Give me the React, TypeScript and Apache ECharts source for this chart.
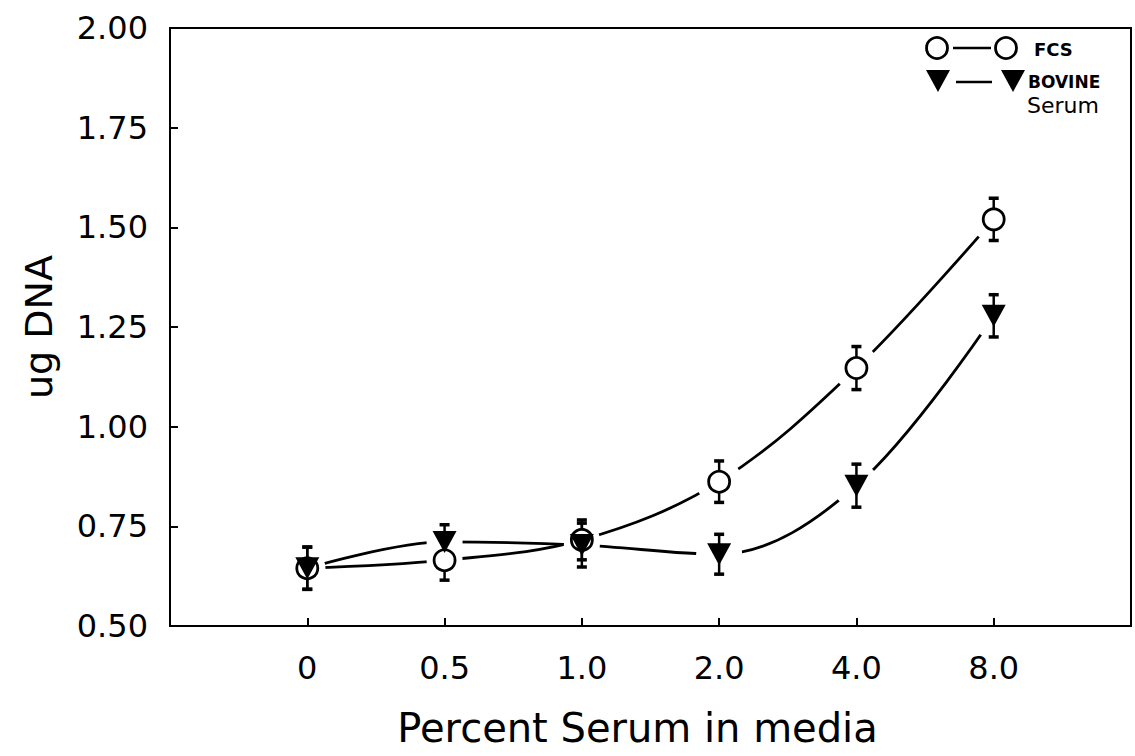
import React, { useEffect, useRef } from "react";
import * as echarts from "echarts";

// Serum concentrations (% in media), plotted at evenly spaced positions
const categories = ["0", "0.5", "1.0", "2.0", "4.0", "8.0"];

// DNA content (ug) with fetal calf serum
const fcsMean = [0.645, 0.665, 0.716, 0.862, 1.147, 1.52];
const fcsErr = [0.053, 0.05, 0.05, 0.052, 0.054, 0.053];

// DNA content (ug) with bovine serum
const bovineMean = [0.645, 0.711, 0.703, 0.68, 0.852, 1.278];
const bovineErr = [0.053, 0.043, 0.055, 0.05, 0.054, 0.053];

const yTicks = [0.5, 0.75, 1.0, 1.25, 1.5, 1.75, 2.0];

const FONT = "DejaVu Sans";

const pairs = (vals: number[]) => vals.map((v, i) => [i, v]);
const triples = (vals: number[], errs: number[]) =>
  vals.map((v, i) => [i, v, errs[i]]);

function errorBar(params: any, api: any) {
  const x = api.value(0);
  const y = api.value(1);
  const e = api.value(2);
  const top = api.coord([x, y + e]);
  const bot = api.coord([x, y - e]);
  const cap = 5;
  const style = { stroke: "#000", lineWidth: 2.5 };
  return {
    type: "group",
    children: [
      { type: "line", shape: { x1: top[0], y1: top[1], x2: bot[0], y2: bot[1] }, style },
      { type: "line", shape: { x1: top[0] - cap, y1: top[1], x2: top[0] + cap, y2: top[1] }, style: { stroke: "#000", lineWidth: 3.5 } },
      { type: "line", shape: { x1: bot[0] - cap, y1: bot[1], x2: bot[0] + cap, y2: bot[1] }, style: { stroke: "#000", lineWidth: 3.5 } },
    ],
  };
}

// gap around each marker: wider where the curves climb steeply
const haloSize = (_v: any, p: any) => (p.dataIndex >= 3 ? 46 : 36);

export default function App() {
  const ref = useRef<HTMLDivElement>(null);

  useEffect(() => {
    if (!ref.current) return;
    const chart = echarts.init(ref.current, null, { renderer: "svg" });

    const lineStyle = { color: "#000", width: 2.8, opacity: 1 };

    chart.setOption({
      animation: false,
      backgroundColor: "#fff",
      grid: {
        left: 170,
        right: 4,
        top: 28,
        bottom: 130,
        show: true,
        borderColor: "#000",
        borderWidth: 2,
      },
      xAxis: {
        type: "value",
        min: -1,
        max: 6,
        interval: 1,
        name: "Percent Serum in media",
        nameLocation: "middle",
        nameGap: 82,
        nameTextStyle: {
          fontFamily: FONT,
          fontSize: 40,
          color: "#000",
          padding: [0, 26, 0, 0],
        },
        axisLine: { show: true, onZero: false, lineStyle: { color: "#000", width: 2 } },
        axisTick: { show: true, inside: true, length: 8, lineStyle: { color: "#000", width: 2 } },
        splitLine: { show: false },
        axisLabel: {
          margin: 26,
          fontFamily: FONT,
          fontSize: 32,
          color: "#000",
          formatter: (v: number) => (v >= 0 && v < categories.length ? categories[v] : ""),
        },
      },
      yAxis: {
        type: "value",
        min: yTicks[0],
        max: yTicks[yTicks.length - 1],
        interval: 0.25,
        name: "ug DNA",
        nameLocation: "middle",
        nameGap: 112,
        nameTextStyle: { fontFamily: FONT, fontSize: 38, color: "#000" },
        axisLine: { show: true, onZero: false, lineStyle: { color: "#000", width: 2 } },
        axisTick: { show: true, inside: true, length: 8, lineStyle: { color: "#000", width: 2 } },
        splitLine: { show: false },
        axisLabel: {
          margin: 22,
          fontFamily: FONT,
          fontSize: 32,
          color: "#000",
          formatter: (v: number) => v.toFixed(2),
        },
      },
      series: [
        {
          name: "FCS line",
          type: "line",
          data: pairs(fcsMean),
          smooth: 0.35,
          showSymbol: false,
          lineStyle,
          z: 1,
          silent: true,
        },
        {
          name: "Bovine line",
          type: "line",
          data: pairs(bovineMean),
          smooth: 0.35,
          showSymbol: false,
          lineStyle,
          z: 1,
          silent: true,
        },
        // white halos open small gaps where the curves meet the markers
        {
          type: "scatter",
          data: pairs(fcsMean),
          symbol: "circle",
          symbolSize: haloSize,
          itemStyle: { color: "#fff", opacity: 1 },
          z: 2,
          silent: true,
        },
        {
          type: "scatter",
          data: pairs(bovineMean),
          symbol: "circle",
          symbolSize: haloSize,
          itemStyle: { color: "#fff", opacity: 1 },
          z: 2,
          silent: true,
        },
        {
          type: "custom",
          data: triples(fcsMean, fcsErr),
          encode: { x: 0, y: 1 },
          renderItem: errorBar,
          z: 3,
          silent: true,
        },
        {
          type: "custom",
          data: triples(bovineMean, bovineErr),
          encode: { x: 0, y: 1 },
          renderItem: errorBar,
          z: 3,
          silent: true,
        },
        {
          name: "FCS",
          type: "scatter",
          data: pairs(fcsMean),
          symbol: "circle",
          symbolSize: 21,
          itemStyle: { color: "#fff", borderColor: "#000", borderWidth: 2.8, opacity: 1 },
          z: 4,
        },
        {
          name: "BOVINE Serum",
          type: "scatter",
          data: pairs(bovineMean),
          symbol: "triangle",
          symbolRotate: 180,
          symbolSize: [24, 22],
          itemStyle: { color: "#000", opacity: 1 },
          z: 5,
        },
      ],
      graphic: [
        // key: circle — circle  FCS
        { type: "circle", shape: { cx: 937, cy: 48, r: 10.5 }, style: { fill: "#fff", stroke: "#000", lineWidth: 2.8 } },
        { type: "line", shape: { x1: 953, y1: 48, x2: 991, y2: 48 }, style: { stroke: "#000", lineWidth: 2.5 } },
        { type: "circle", shape: { cx: 1006, cy: 48, r: 10.5 }, style: { fill: "#fff", stroke: "#000", lineWidth: 2.8 } },
        {
          type: "text",
          x: 1034,
          y: 49,
          style: { text: "FCS", fontFamily: FONT, fontWeight: "bold", fontSize: 18, fill: "#000", verticalAlign: "middle", align: "left" },
        },
        // key: triangle — triangle  BOVINE Serum
        { type: "polygon", shape: { points: [[926, 70], [950, 70], [938, 92]] }, style: { fill: "#000" } },
        { type: "line", shape: { x1: 956, y1: 82, x2: 992, y2: 82 }, style: { stroke: "#000", lineWidth: 2.5 } },
        { type: "polygon", shape: { points: [[1001, 70], [1025, 70], [1013, 92]] }, style: { fill: "#000" } },
        {
          type: "text",
          x: 1028,
          y: 82,
          style: { text: "BOVINE", fontFamily: FONT, fontWeight: "bold", fontSize: 17, fill: "#000", verticalAlign: "middle", align: "left" },
        },
        {
          type: "text",
          x: 1027,
          y: 105,
          style: { text: "Serum", fontFamily: FONT, fontSize: 22, fill: "#000", verticalAlign: "middle", align: "left" },
        },
      ],
    });

    return () => chart.dispose();
  }, []);

  return (
    <div
      ref={ref}
      style={{ position: "fixed", left: 0, top: 0, width: 1135, height: 756, background: "#fff" }}
    />
  );
}
